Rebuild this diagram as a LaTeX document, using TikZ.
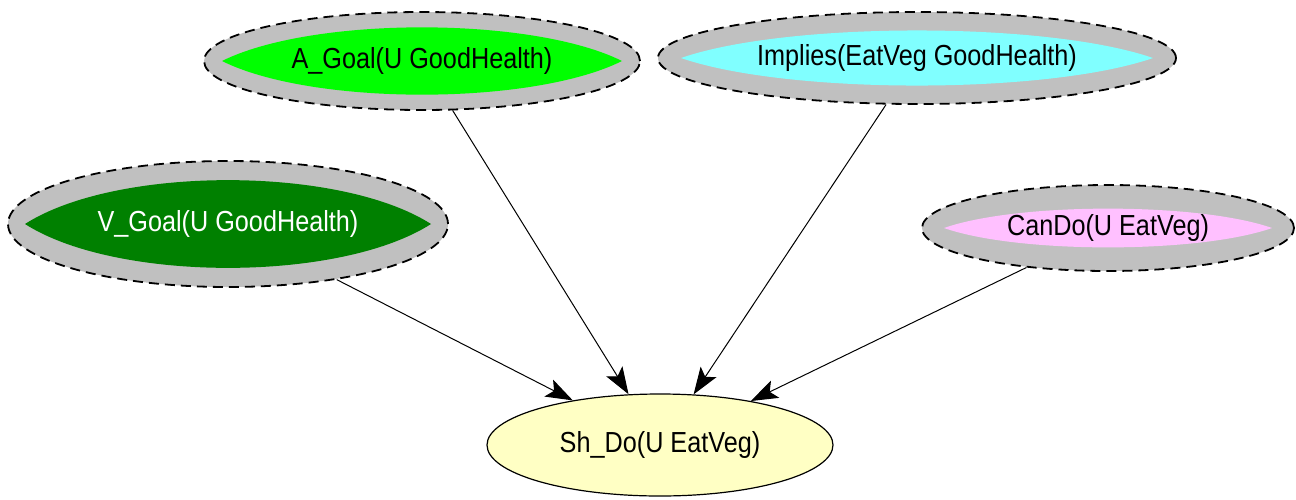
\documentclass[tikz,border=0pt]{standalone}
\usepackage{fontspec}
\newfontfamily\labelfont[FakeStretch=0.87]{Liberation Sans}
\usetikzlibrary{shapes.geometric,arrows.meta}

\definecolor{ringgray}{HTML}{C0C0C0}
\definecolor{agreen}{HTML}{00FF00}
\definecolor{vgreen}{HTML}{008000}
\definecolor{implcyan}{HTML}{80FFFF}
\definecolor{canpink}{HTML}{FFC0FF}
\definecolor{shyellow}{HTML}{FFFFC4}

\tikzset{
  lbl/.style={font=\labelfont\fontsize{29}{34}\selectfont},
  ring/.style={ellipse, inner sep=0pt, fill=ringgray, draw=black,
    line width=1.8pt, dash pattern=on 10pt off 6pt},
  target/.style={ellipse, inner sep=0pt, lbl, fill=shyellow, draw=black, line width=1.2pt},
  edge/.style={draw=black, line width=1pt,
    -{Stealth[length=27pt,width=19pt,inset=6pt]}}
}

% pointed lens of half-width #2 and half-height #3 centred on node #1
\newcommand\lensfill[4]{%
  \fill[#4] ([xshift=-#2pt]#1.center)
    .. controls ([xshift=-0.55*#2pt, yshift=1.36*#3pt]#1.center)
       and ([xshift=0.55*#2pt, yshift=1.36*#3pt]#1.center) .. ([xshift=#2pt]#1.center)
    .. controls ([xshift=0.55*#2pt, yshift=-1.36*#3pt]#1.center)
       and ([xshift=-0.55*#2pt, yshift=-1.36*#3pt]#1.center) .. cycle;}

\begin{document}
\begin{tikzpicture}[x=1pt,y=-1pt]
  \useasboundingbox (0,0) rectangle (1296,499);
  \fill[white] (0,0) rectangle (1296,499);

  % dashed gray rings
  \node[ring, minimum width=436pt, minimum height=98pt]  (agoal)   at (422,61)  {};
  \node[ring, minimum width=518pt, minimum height=92pt]  (implies) at (917,58)  {};
  \node[ring, minimum width=440pt, minimum height=126pt] (vgoal)   at (228,224) {};
  \node[ring, minimum width=372pt, minimum height=86pt]  (cando)   at (1108,228) {};

  % coloured cores
  \lensfill{agoal}{200}{33}{agreen}
  \lensfill{implies}{236}{27}{implcyan}
  \lensfill{vgoal}{203}{43}{vgreen}
  \lensfill{cando}{164}{19}{canpink}

  % labels
  \node[lbl] (agoaltext)   at (agoal)   {A\_Goal(U GoodHealth)};
  \node[lbl] (impliestext) at (implies) {Implies(EatVeg GoodHealth)};
  \node[lbl, text=white] (vgoaltext) at (vgoal) {V\_Goal(U GoodHealth)};
  \node[lbl] (candotext)   at (cando)   {CanDo(U EatVeg)};

  \node[target, minimum width=346pt, minimum height=102pt]
    (shdo) at (660,445) {Sh\_Do(U EatVeg)};

  \draw[edge] (vgoal) -- (shdo);
  \draw[edge] (agoal) -- (shdo);
  \draw[edge] (implies) -- (shdo);
  \draw[edge] (cando) -- (shdo);
\end{tikzpicture}
\end{document}
